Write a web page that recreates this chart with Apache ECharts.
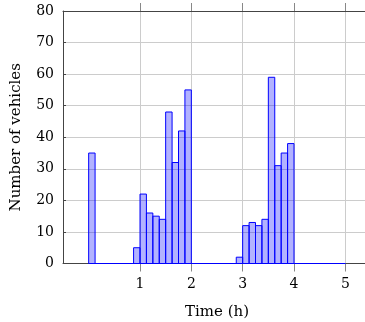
<!DOCTYPE html>
<html>
<head>
<meta charset="utf-8">
<script src="https://cdn.jsdelivr.net/npm/echarts@6/dist/echarts.min.js"></script>
<style>
  html, body { margin: 0; padding: 0; background: #fff; }
  #chart { width: 365px; height: 322px; }
</style>
</head>
<body>
<div id="chart"></div>
<script>
// histogram bins: start of first bin, bin width (h), counts per bin
const binStart = 0;
const binWidth = 0.125;
const counts = [
  35, 0, 0, 0, 0, 0, 0, 5,
  22, 16, 15, 14, 48, 32, 42, 55,
  0, 0, 0, 0, 0, 0, 0, 2,
  12, 13, 12, 14, 59, 31, 35, 38,
  0, 0, 0, 0, 0, 0, 0, 0
];
const xTicks = [1, 2, 3, 4, 5];
const yMax = 80;

const font = '"DejaVu Serif", "Liberation Serif", serif';
const chart = echarts.init(document.getElementById('chart'));

const binData = counts.map((c, i) => [binStart + i * binWidth, c]);

chart.setOption({
  animation: false,
  grid: { left: 63, right: -6, top: 11, bottom: 58.5, outerBoundsMode: 'none', containLabel: false },
  xAxis: [
    {
      type: 'value',
      min: -0.5,
      max: 5.5,
      name: 'Time (h)',
      nameLocation: 'middle',
      nameGap: 41,
      nameTextStyle: { fontFamily: font, fontSize: 15, color: '#000' },
      axisLine: { show: true, onZero: false, lineStyle: { color: '#444', width: 1 } },
      axisTick: { show: true, inside: false, length: 8, customValues: xTicks, lineStyle: { color: '#888' } },
      axisLabel: { customValues: xTicks, margin: 14, fontFamily: font, fontSize: 14, color: '#000' },
      splitLine: { show: true, customValues: xTicks, lineStyle: { color: '#ccc', width: 1 } }
    },
    {
      type: 'value',
      position: 'top',
      min: -0.5,
      max: 5.5,
      axisLine: { show: true, onZero: false, lineStyle: { color: '#444', width: 1 } },
      axisTick: { show: true, inside: false, length: 8, customValues: xTicks, lineStyle: { color: '#888' } },
      axisLabel: { show: false },
      splitLine: { show: false }
    }
  ],
  yAxis: {
    type: 'value',
    min: 0,
    max: yMax,
    interval: 10,
    name: 'Number of vehicles',
    nameLocation: 'middle',
    nameRotate: 90,
    nameGap: 39,
    nameTextStyle: { fontFamily: font, fontSize: 15, color: '#000' },
    axisLine: { show: true, onZero: false, lineStyle: { color: '#444', width: 1 } },
    axisTick: { show: true, inside: true, length: 3, lineStyle: { color: '#444' } },
    axisLabel: { margin: 9, fontFamily: font, fontSize: 14, color: '#000' },
    splitLine: { show: true, lineStyle: { color: '#ccc', width: 1 } }
  },
  series: [{
    type: 'custom',
    xAxisIndex: 0,
    data: binData,
    encode: { x: 0, y: 1 },
    renderItem: function (params, api) {
      const x0 = api.value(0);
      const c = api.value(1);
      const p1 = api.coord([x0, c]);
      const p2 = api.coord([x0 + binWidth, 0]);
      return {
        type: 'rect',
        shape: { x: p1[0], y: p1[1], width: p2[0] - p1[0], height: p2[1] - p1[1] },
        style: { fill: 'rgba(0,0,255,0.3)', stroke: '#0000ff', lineWidth: 1 }
      };
    }
  }]
});
</script>
</body>
</html>
